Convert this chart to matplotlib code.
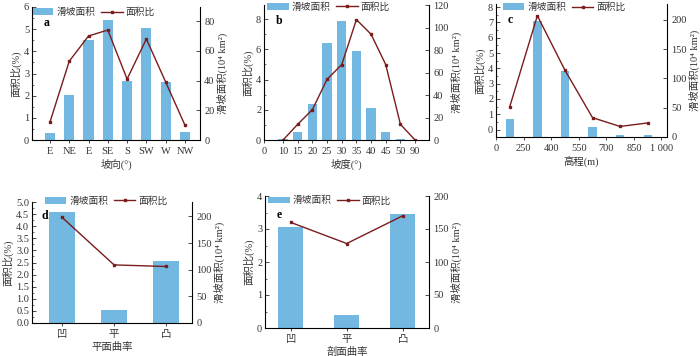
import matplotlib
matplotlib.use('Agg')
import matplotlib.pyplot as plt
from matplotlib.ticker import AutoMinorLocator

plt.rcParams['font.family'] = ['Liberation Serif', 'Noto Sans CJK SC']
plt.rcParams['font.size'] = 7.5
plt.rcParams['axes.unicode_minus'] = False

bar_c = '#72B8E0'
line_c = '#7A1C1C'
txt_c = '#333333'

# a 坡向
aspect_cats = ['E', 'NE', 'E', 'SE', 'S', 'SW', 'W', 'NW']
aspect_bar = [0.32, 2.05, 4.5, 5.4, 2.65, 5.05, 2.6, 0.38]
aspect_line = [12, 53, 70, 74, 41, 68, 39, 10]

# b 坡度
slope_ticks = ['0', '10', '15', '20', '25', '30', '35', '40', '45', '50', '90']
slope_bar = [0.06, 0.55, 2.4, 6.4, 7.85, 5.9, 2.1, 0.5, 0.05, 0.0]
slope_line = [0, 14, 27, 54, 67, 107, 94, 67, 14, 0]

# c 高程
elev_ticks = ['0', '250', '400', '550', '700', '850', '1 000']
elev_bar = [0.72, 7.1, 3.8, 0.2, -0.38, -0.38]
elev_line = [52, 207, 114, 33, 18, 24]

# d 平面曲率
plan_cats = ['凹', '平', '凸']
plan_bar = [4.6, 0.55, 2.55]
plan_line = [198, 109, 106]

# e 剖面曲率
prof_cats = ['凹', '平', '凸']
prof_bar = [3.07, 0.38, 3.44]
prof_line = [160, 128, 170]

W, H = 700, 356
fig = plt.figure(figsize=(W / 100, H / 100), dpi=100)


def rect(l, r, t, b):
    return [l / W, 1 - b / H, (r - l) / W, (b - t) / H]


def panel(r, xs, bars, lvals, width, ylim, ylim2, tag, xlabel, leg_xy,
          tag_xy=(0.07, 0.86), bottom=0):
    ax = fig.add_axes(rect(*r))
    ax2 = ax.twinx()
    hb = ax.bar(xs, [v - bottom for v in bars], width, bottom=bottom,
                color=bar_c)
    hl, = ax2.plot(xs, lvals, color=line_c, lw=1, marker='s', ms=2)
    ax.set_ylim(*ylim)
    ax2.set_ylim(*ylim2)

    ax.spines['top'].set_visible(False)
    ax2.spines['top'].set_visible(False)
    for s in ['left', 'bottom']:
        ax.spines[s].set_linewidth(0.6)
    ax2.spines['right'].set_linewidth(0.6)
    ax.tick_params(axis='y', direction='in', length=3, width=0.5, pad=2,
                   labelcolor=txt_c)
    ax.tick_params(axis='y', which='minor', direction='in', length=1.5, width=0.4)
    ax.tick_params(axis='x', direction='out', length=2, width=0.5, pad=3,
                   labelcolor=txt_c)
    ax2.tick_params(axis='y', direction='in', length=3, width=0.5, pad=3,
                    labelcolor=txt_c)
    ax.yaxis.set_minor_locator(AutoMinorLocator(2))
    ax.set_ylabel('面积比(%)', labelpad=2, color=txt_c)
    ax2.set_ylabel('滑坡面积(10⁴ km²)', rotation=90, labelpad=1.5, color=txt_c)
    ax.set_xlabel(xlabel, labelpad=2, color=txt_c)
    ax.text(tag_xy[0], tag_xy[1], tag, transform=ax.transAxes, fontsize=8.5,
            fontweight='bold')
    ax.legend([hb, hl], ['滑坡面积', '面积比'], loc='center left',
              bbox_to_anchor=leg_xy, ncol=2, frameon=False,
              fontsize=7, handlelength=2.2, handletextpad=0.3,
              columnspacing=0.6, borderaxespad=0, borderpad=0,
              labelcolor=txt_c)
    return ax, ax2


# a
xa = list(range(len(aspect_cats)))
ax, ax2 = panel((32, 200, 7, 140), xa, aspect_bar, aspect_line, 0.52,
                (0, 6), (0, 89.5), 'a', '坡向(°)', (0.0, 0.96))
ax.set_xticks(xa)
ax.set_xticklabels(aspect_cats)
ax.set_xlim(-0.93, 7.78)
ax2.set_yticks([0, 20, 40, 60, 80])

# b
xb = list(range(1, len(slope_ticks)))
ax, ax2 = panel((264, 429, 5, 140), xb, slope_bar, slope_line, 0.63,
                (0, 8.93), (0, 120), 'b', '坡度(°)', (0.02, 0.985))
ax.set_xticks([-0.3] + xb)
ax.set_xticklabels(slope_ticks)
ax.set_xlim(-0.3, 10.95)
ax.set_yticks([0, 2, 4, 6, 8])

# c
xc = [i + 0.5 for i in range(len(elev_bar))]
ax, ax2 = panel((496, 667, 4, 137), xc, elev_bar, elev_line, 0.3,
                (-0.48, 8.2), (0, 227), 'c', '高程(m)', (0.04, 0.975),
                bottom=-0.48)
ax.set_xticks(range(len(elev_ticks)))
ax.set_xticklabels(elev_ticks)
ax.set_xlim(0, 6.2)
ax.set_yticks(range(0, 9))
ax2.set_yticks([0, 50, 100, 150, 200])

# d
xd = list(range(len(plan_cats)))
ax, ax2 = panel((32, 192, 202, 323), xd, plan_bar, plan_line, 0.5,
                (0, 5), (0, 227), 'd', '平面曲率', (0.08, 1.01),
                tag_xy=(0.06, 0.86))
ax.set_xticks(xd)
ax.set_xticklabels(plan_cats)
ax.set_xlim(-0.58, 2.5)
ax.set_yticks([i * 0.5 for i in range(11)])
ax.set_yticklabels(['%.1f' % (i * 0.5) for i in range(11)])
ax2.set_yticks([0, 50, 100, 150, 200])

# e
xe = list(range(len(prof_cats)))
ax, ax2 = panel((265, 429, 196, 328), xe, prof_bar, prof_line, 0.45,
                (0, 4), (0, 200), 'e', '剖面曲率', (0.02, 0.965),
                tag_xy=(0.07, 0.83))
ax.set_xticks(xe)
ax.set_xticklabels(prof_cats)
ax.set_xlim(-0.46, 2.47)
ax.set_yticks([0, 1, 2, 3, 4])
ax2.set_yticks([0, 50, 100, 150, 200])

fig.savefig('out.png', dpi=100)
